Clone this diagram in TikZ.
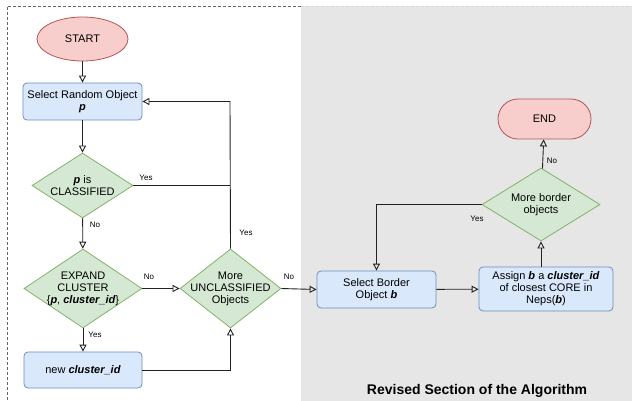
\documentclass[tikz,border=0pt]{standalone}
\usepackage{fontspec}
\setmainfont{Liberation Sans}
\usetikzlibrary{shapes.geometric,arrows.meta}
\definecolor{redf}{HTML}{F8CECC}\definecolor{redd}{HTML}{B85450}
\definecolor{bluef}{HTML}{DAE8FC}\definecolor{blued}{HTML}{6C8EBF}
\definecolor{greenf}{HTML}{D5E8D4}\definecolor{greend}{HTML}{82B366}
\definecolor{bgrey}{HTML}{E6E6E6}\definecolor{lnc}{HTML}{222222}
\tikzset{
  term/.style={draw=redd,fill=redf,line width=0.8pt,font=\fontsize{11}{13}\selectfont,inner sep=0pt},
  proc/.style={draw=blued,fill=bluef,line width=0.8pt,rounded corners=4pt,align=center,font=\fontsize{11}{13}\selectfont,inner sep=0pt},
  dec/.style={draw=greend,fill=greenf,line width=0.8pt,diamond,align=center,font=\fontsize{11}{13}\selectfont,inner sep=0pt},
  conn/.style={draw=lnc,line width=0.9pt,-{Triangle[open,length=7pt,width=7pt]}},
  plain/.style={draw=lnc,line width=0.9pt},
  lbl/.style={font=\fontsize{8}{9}\selectfont,inner sep=0pt},
}
\begin{document}
\begin{tikzpicture}[x=1pt,y=-1pt]
\useasboundingbox (0,0) rectangle (632,401);
\fill[white] (0,0) rectangle (632,401);
\fill[bgrey] (301,6) rectangle (632,401);
\draw[gray!80!black,line width=0.8pt,dash pattern=on 3pt off 2pt] (301,6) -- (7,6) -- (7,401);
\draw[white!85!black,line width=0.8pt,dash pattern=on 3pt off 2pt] (301,6) -- (632,6);

\node[term,ellipse,minimum width=91,minimum height=44] (start) at (82.5,39) {START};
\node[proc,minimum width=119,minimum height=37] (sel) at (82.5,101.5) {Select Random Object\\[-1pt]\textbf{\textit{p}}};
\node[dec,minimum width=101,minimum height=65,aspect=1.55] (cls) at (82.5,185.5) {};
\node[align=center,font=\fontsize{11}{13}\selectfont] at (82.5,185.5) {\textbf{\textit{p}} is\\[-1pt]CLASSIFIED};
\node[dec,minimum width=118,minimum height=79] (exp) at (83,288.5) {};
\node[align=center,font=\fontsize{11}{13}\selectfont] at (83,288.5) {EXPAND\\[-1pt]CLUSTER\\[-1pt]\{\textbf{\textit{p}}, \textbf{\textit{cluster\_id}}\}};
\node[dec,minimum width=101,minimum height=79] (more) at (230.5,288.5) {};
\node[align=center,font=\fontsize{11}{13}\selectfont] at (230.5,288.5) {More\\[-1pt]UNCLASSIFIED\\[-1pt]Objects};
\node[proc,minimum width=118,minimum height=36] (newc) at (83,370) {new \textbf{\textit{cluster\_id}}};

\node[proc,minimum width=119,minimum height=37] (selb) at (376.5,289.5) {Select Border\\[-1pt]Object \textbf{\textit{b}}};
\node[proc,minimum width=134,minimum height=44] (asg) at (546,289) {Assign \textbf{\textit{b}} a \textbf{\textit{cluster\_id}}\\[-1pt]of closest CORE in\\[-1pt]Neps(\textbf{\textit{b}})};
\node[dec,minimum width=118,minimum height=73] (mb) at (541,204.5) {};
\node[align=center,font=\fontsize{11}{13}\selectfont] at (541,204.5) {More border\\[-1pt]objects};
\node[term,rounded corners=20pt,minimum width=93,minimum height=40] (end) at (544.5,119) {END};

\node[font=\bfseries\fontsize{14}{16}\selectfont] (title) at (477,391) {Revised Section of the Algorithm};

\coordinate (c1) at (230,101.5);
\draw[conn] (start) -- (sel);
\draw[conn] (sel) -- (cls);
\draw[conn] (cls) -- (exp);
\draw[plain] (cls.east) -- (cls.east -| c1);
\draw[conn] (more.north) -- (c1) -- (sel.east);
\draw[conn] (exp) -- (more);
\draw[conn] (exp) -- (newc);
\draw[conn] (newc.east) -| (more.south);
\draw[conn] (more.east) -- (selb.west);
\draw[conn] (selb) -- (asg);
\draw[conn] (asg.north -| mb.south) -- (mb.south);
\draw[conn] (mb) -- (end);
\draw[conn] (mb.west) -| (selb.north);

\node[lbl] at (146,178) {Yes};
\node[lbl] at (95,225) {No};
\node[lbl] at (149,277) {No};
\node[lbl] at (246,233) {Yes};
\node[lbl] at (289,277) {No};
\node[lbl] at (95,335) {Yes};
\node[lbl] at (552,161) {No};
\node[lbl] at (477,219) {Yes};
\end{tikzpicture}
\end{document}
